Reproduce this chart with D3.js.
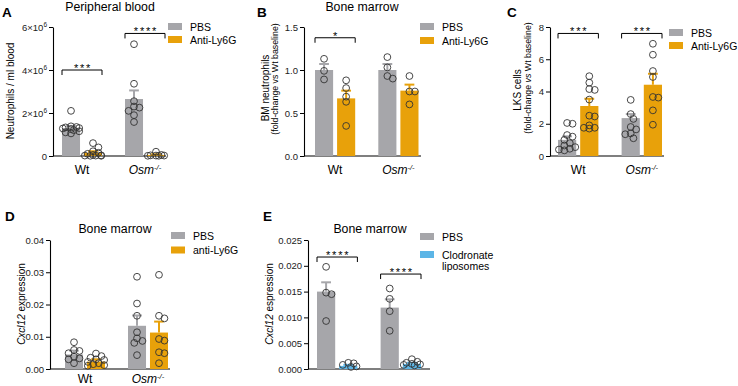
<!DOCTYPE html>
<html>
<head>
<meta charset="utf-8">
<script src="https://cdn.jsdelivr.net/npm/d3@7"></script>
<style>
  body { margin: 0; background: #fff; }
  svg { font-family: Arial, "Liberation Sans", sans-serif; }
  .tick text { font-size: 9.5px; fill: #222; }
</style>
</head>
<body>
<svg id="fig" width="738" height="386"></svg>
<script>
// ---- data ----
const groups = ["Wt", "Osm"];
const grey = "#a6a6aa", orange = "#e8a10a", blue = "#5cb5e6";

// A: peripheral blood neutrophils / ml
const aSeries = ["PBS", "Anti-Ly6G"];
const aMean = [[1.3e6, 0.15e6], [2.65e6, 0.05e6]];
const aErr = [[1.4e6, 0.22e6], [3.05e6, 0.08e6]];
const aPts = [
	[[2.1e6, 1.38e6, 1.35e6, 1.33e6, 1.3e6, 1.28e6, 1.25e6, 1.2e6, 1.15e6, 1.1e6, 1.05e6],
	 [0.6e6, 0.4e6, 0.22e6, 0.15e6, 0.1e6, 0.05e6, 0.03e6, 0.02e6, 0.02e6, 0.01e6, 0.01e6]],
	[[5.2e6, 3.36e6, 2.55e6, 2.3e6, 2.25e6, 2.1e6, 1.9e6, 1.58e6],
	 [0.2e6, 0.05e6, 0.03e6, 0.02e6, 0.02e6, 0.01e6, 0.01e6]]
];
const aTicks = [0, 2e6, 4e6, 6e6];

// B: BM neutrophils fold change
const bMean = [[1.0, 0.67], [1.0, 0.76]];
const bErr = [[1.07, 0.76], [1.07, 0.83]];
const bPts = [
	[[1.13, 0.99, 0.89], [0.88, 0.79, 0.69, 0.63, 0.35]],
	[[1.15, 1.03, 0.93, 0.9], [0.93, 0.75, 0.75, 0.6]]
];
const bTicks = [0, 0.5, 1.0, 1.5];

// C: LKS cells fold change
const cMean = [[1.0, 3.1], [2.35, 4.42]];
const cErr = [[1.22, 3.55], [2.6, 5.1]];
const cPts = [
	[[2.05, 2.0, 1.3, 1.2, 1.0, 0.8, 0.65, 0.55, 0.45, 0.4, 0.35],
	 [4.95, 4.55, 4.15, 4.1, 3.5, 2.5, 2.45, 1.9, 1.75, 1.75, 1.7]],
	[[3.48, 2.6, 2.3, 1.8, 1.65, 1.4, 1.35, 1.1],
	 [6.96, 6.28, 5.27, 4.9, 3.66, 3.62, 2.83, 1.94]]
];
const cTicks = [0, 2, 4, 6, 8];

// D: Cxcl12 expression, anti-Ly6G
const dSeries = ["PBS", "anti-Ly6G"];
const dMean = [[0.0045, 0.0023], [0.0134, 0.0113]];
const dErr = [[0.0057, 0.003], [0.0166, 0.0147]];
const dPts = [
	[[0.0083, 0.0059, 0.0056, 0.0049, 0.0038, 0.0033, 0.003, 0.0018],
	 [0.0048, 0.004, 0.0035, 0.003, 0.0028, 0.0022, 0.0018, 0.0015, 0.0012, 0.001]],
	[[0.0286, 0.0203, 0.0165, 0.0114, 0.0095, 0.0087, 0.0081, 0.0043],
	 [0.0292, 0.0165, 0.0157, 0.0093, 0.0088, 0.0052, 0.0049, 0.0018]]
];
const dTicks = [0, 0.01, 0.02, 0.03, 0.04];

// E: Cxcl12 expression, clodronate
const eSeries = ["PBS", "Clodronate liposomes"];
const eMean = [[0.015, 0.0006], [0.0119, 0.001]];
const eErr = [[0.0168, 0.0008], [0.0135, 0.0012]];
const ePts = [
	[[0.0198, 0.0148, 0.0145, 0.0093], [0.0012, 0.0011, 0.0008, 0.0005, 0.0004]],
	[[0.0156, 0.0136, 0.0112, 0.0074], [0.0019, 0.0014, 0.0012, 0.001, 0.0009, 0.0008, 0.0007]]
];
const eTicks = [0, 0.005, 0.01, 0.015, 0.02, 0.025];

let svg = d3.select('#fig');

// small beeswarm: keep points inside ~ the bar, allow some overlap
function swarm(vals, y, cx, r, maxOff) {
	let placed = [], minD = 2 * r * 0.75, step = r * 0.8;
	return vals.map(v => {
		let py = y(v), best = cx, bestOv = Infinity;
		for (let k = 0; k < 15; k++) {
			let off = (k % 2 ? 1 : -1) * Math.ceil(k / 2) * step;
			if (Math.abs(off) > maxOff) break;
			let px = cx + off, ov = 0;
			placed.forEach(p => {
				let d = Math.hypot(p[0] - px, p[1] - py);
				if (d < minD) ov += minD - d;
			});
			if (ov === 0) { best = px; break; }
			if (ov < bestOv) { bestOv = ov; best = px; }
		}
		placed.push([best, py]);
		return best;
	});
}

function draw_panel(p) {
	let g = svg.append('g');
	let y = d3.scaleLinear().domain([0, p.max]).range([p.yB, p.yT]);
	let x = d3.scaleBand().domain(groups).range([p.x0, p.x1]).paddingInner(0.365);
	let sub = d3.scaleBand().domain(p.series).range([0, x.bandwidth()]).paddingInner(0.18);

	// y axis
	let yAxis = g.append('g')
		.attr('transform', `translate(${p.axisX},0)`)
		.call(d3.axisLeft(y).tickValues(p.ticks).tickSize(4).tickSizeOuter(0).tickPadding(2).tickFormat(p.fmt));
	yAxis.select('.domain').attr('stroke-width', 1.1);
	if (p.sci) {
		yAxis.selectAll('.tick text').each(function(d) {
			let t = d3.select(this).text(null);
			if (d === 0) { t.text('0'); return; }
			t.append('tspan').text(`${d / 1e6}×10`);
			t.append('tspan').attr('dy', -3.5).attr('font-size', 6.5).text('6');
		});
	}
	// x axis line
	g.append('line')
		.attr('x1', p.axisX).attr('x2', p.axisEnd)
		.attr('y1', p.yB).attr('y2', p.yB)
		.attr('stroke', '#000').attr('stroke-width', 1.1);

	groups.forEach((grp, gi) => {
		p.series.forEach((s, si) => {
			let bx = x(grp) + sub(s), bw = sub.bandwidth(), cx = bx + bw / 2;
			g.append('rect')
				.attr('x', bx).attr('y', y(p.mean[gi][si]))
				.attr('width', bw).attr('height', p.yB - y(p.mean[gi][si]))
				.attr('fill', p.colors[si]);
			// upper error bar
			g.append('line')
				.attr('x1', cx).attr('x2', cx)
				.attr('y1', y(p.mean[gi][si])).attr('y2', y(p.err[gi][si]))
				.attr('stroke', p.colors[si]).attr('stroke-width', 2);
			g.append('line')
				.attr('x1', cx - bw * 0.27).attr('x2', cx + bw * 0.27)
				.attr('y1', y(p.err[gi][si])).attr('y2', y(p.err[gi][si]))
				.attr('stroke', p.colors[si]).attr('stroke-width', 2);
			let vals = p.pts[gi][si];
			let xs = swarm(vals, y, cx, 3.4, bw / 2 + 1.5);
			g.selectAll(null)
				.data(vals)
				.enter()
				.append('circle')
				.attr('cx', (d, i) => xs[i])
				.attr('cy', d => y(d))
				.attr('r', 3.4)
				.attr('fill', 'none')
				.attr('stroke', '#333')
				.attr('stroke-width', 0.9);
		});
		if (p.showX) {
			let t = g.append('text')
				.attr('x', x(grp) + x.bandwidth() / 2)
				.attr('y', p.labY)
				.attr('text-anchor', 'middle')
				.attr('font-size', 12);
			if (grp === 'Wt') t.text('Wt');
			else {
				t.append('tspan').attr('font-style', 'italic').text('Osm');
				t.append('tspan').attr('font-style', 'italic').attr('dy', -4).attr('font-size', 7.5).text('-/-');
			}
		}
	});

	// significance brackets
	(p.sig || []).forEach(s => {
		let bx0 = x(groups[s.g]), bx1 = bx0 + x.bandwidth(), by = y(s.v);
		g.append('path')
			.attr('d', `M${bx0},${by + 5}V${by}H${bx1}V${by + 5}`)
			.attr('fill', 'none').attr('stroke', '#000').attr('stroke-width', 1);
		g.append('text')
			.attr('x', (bx0 + bx1) / 2 + 1).attr('y', by + 2)
			.attr('text-anchor', 'middle').attr('font-size', 11)
			.attr('letter-spacing', 1.8)
			.text(s.label);
	});

	// legend
	p.series.forEach((s, si) => {
		let ly = p.legY + si * p.legStep;
		g.append('rect')
			.attr('x', p.legX).attr('y', ly)
			.attr('width', 14).attr('height', 7)
			.attr('fill', p.colors[si]);
		let lines = p.legLines ? p.legLines[si] : [s];
		lines.forEach((ln, li) => {
			g.append('text')
				.attr('x', p.legX + 22).attr('y', ly + 7.5 + li * 11.5)
				.attr('font-size', 10.5)
				.text(ln);
		});
	});

	// title + panel letter
	if (p.title) {
		g.append('text')
			.attr('x', p.titleX).attr('y', p.titleY)
			.attr('text-anchor', 'middle').attr('font-size', 12.3)
			.text(p.title);
	}
	g.append('text')
		.attr('x', p.letterX).attr('y', p.letterY)
		.attr('font-size', 13.5).attr('font-weight', 'bold')
		.text(p.letter);

	// y label lines
	p.ylab.forEach(l => {
		let t = g.append('text')
			.attr('transform', `translate(${l.x},${l.y}) rotate(-90)`)
			.attr('text-anchor', 'middle')
			.attr('font-size', l.size);
		l.parts.forEach(pt => {
			t.append('tspan').attr('font-style', pt[1] ? 'italic' : 'normal').text(pt[0]);
		});
	});
}

draw_panel({
	letter: 'A', letterX: 2, letterY: 17,
	title: 'Peripheral blood', titleX: 110, titleY: 11,
	series: aSeries, colors: [grey, orange],
	mean: aMean, err: aErr, pts: aPts, max: 6e6, ticks: aTicks, sci: true,
	axisX: 53, axisEnd: 166, x0: 62, x1: 165, yB: 156, yT: 27, showX: true, labY: 174,
	legX: 168, legY: 23, legStep: 13,
	sig: [{g: 0, v: 4.0e6, label: '***'}, {g: 1, v: 5.7e6, label: '****'}],
	ylab: [{x: 14, y: 91, size: 10, parts: [['Neutrophils / ml blood']]}]
});

draw_panel({
	letter: 'B', letterX: 257, letterY: 17,
	title: 'Bone marrow', titleX: 362, titleY: 11,
	series: aSeries, colors: [grey, orange],
	mean: bMean, err: bErr, pts: bPts, max: 1.5, ticks: bTicks, fmt: d3.format('.1f'),
	axisX: 304, axisEnd: 421, x0: 315, x1: 418.5, yB: 156, yT: 27, showX: true, labY: 174,
	legX: 420, legY: 23, legStep: 14,
	sig: [{g: 0, v: 1.375, label: '*'}],
	ylab: [
		{x: 269, y: 88, size: 10, parts: [['BM neutrophils']]},
		{x: 278, y: 79, size: 8.8, parts: [['(fold-change vs Wt baseline)']]}
	]
});

draw_panel({
	letter: 'C', letterX: 507, letterY: 17,
	series: aSeries, colors: [grey, orange],
	mean: cMean, err: cErr, pts: cPts, max: 8, ticks: cTicks, fmt: d3.format('d'),
	axisX: 550, axisEnd: 664, x0: 558, x1: 662, yB: 156, yT: 27, showX: true, labY: 174,
	legX: 669, legY: 29, legStep: 13,
	sig: [{g: 0, v: 7.6, label: '***'}, {g: 1, v: 7.6, label: '***'}],
	ylab: [
		{x: 521, y: 90, size: 10, parts: [['LKS cells']]},
		{x: 531, y: 78, size: 8.8, parts: [['(fold-change '], ['vs', true], [' Wt baseline)']]}
	]
});

draw_panel({
	letter: 'D', letterX: 5, letterY: 221,
	title: 'Bone marrow', titleX: 115, titleY: 233,
	series: dSeries, colors: [grey, orange],
	mean: dMean, err: dErr, pts: dPts, max: 0.04, ticks: dTicks, fmt: d3.format('.2f'),
	axisX: 50, axisEnd: 170, x0: 65, x1: 168, yB: 369, yT: 240, showX: true, labY: 383,
	legX: 171, legY: 232, legStep: 14.5,
	ylab: [{x: 25, y: 304, size: 10, parts: [['Cxcl12', true], [' expression']]}]
});

draw_panel({
	letter: 'E', letterX: 263, letterY: 221,
	title: 'Bone marrow', titleX: 370, titleY: 233,
	series: eSeries, colors: [grey, blue],
	legLines: [['PBS'], ['Clodronate', 'liposomes']],
	mean: eMean, err: eErr, pts: ePts, max: 0.025, ticks: eTicks, fmt: d3.format('.3f'),
	axisX: 308, axisEnd: 430, x0: 317, x1: 421, yB: 369, yT: 240, showX: false,
	legX: 420, legY: 233, legStep: 18,
	sig: [{g: 0, v: 0.0217, label: '****'}, {g: 1, v: 0.0184, label: '****'}],
	ylab: [{x: 273, y: 304, size: 10, parts: [['Cxcl12', true], [' espression']]}]
});
</script>
</body>
</html>
